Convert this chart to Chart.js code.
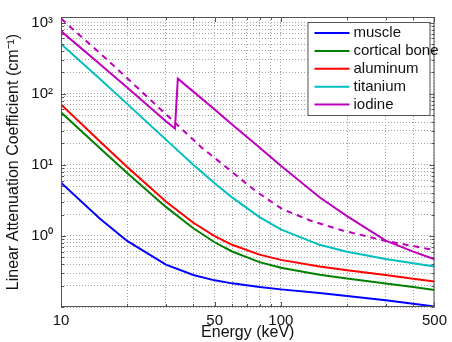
<!DOCTYPE html>
<html>
<head>
<meta charset="utf-8">
<script src="https://cdn.jsdelivr.net/npm/chart.js@4"></script>
<style>
  html, body { margin: 0; padding: 0; background: #fff; }
</style>
</head>
<body>
<canvas id="myChart" width="452" height="342"></canvas>
<script>
// energies (keV) of the tabulated points
const energy = [10, 15, 20, 30, 40, 50, 60, 80, 100, 150, 200, 300, 400, 500];
const muscle = [5.6, 1.76, 0.85, 0.395, 0.282, 0.237, 0.215, 0.191, 0.177, 0.157, 0.143, 0.124, 0.111, 0.102];
const corticalBone = [54.7, 17.3, 7.68, 2.56, 1.28, 0.814, 0.604, 0.428, 0.356, 0.284, 0.251, 0.214, 0.191, 0.174];
const aluminum = [70.8, 21.5, 9.29, 3.04, 1.53, 0.994, 0.75, 0.545, 0.46, 0.372, 0.33, 0.281, 0.25, 0.228];
const titanium = [502, 163, 72, 22.6, 10.05, 5.51, 3.48, 1.84, 1.235, 0.749, 0.597, 0.474, 0.412, 0.371];

// iodine has its K-edge between 33 and 34 keV
const iodineEnergy = [10, 15, 20, 30, 33, 34, 40, 50, 60, 80, 100, 150, 200, 300, 400, 500];
const iodine = [760, 262, 122, 41, 32.5, 163, 107, 60, 37, 17.5, 9.7, 3.5, 1.9, 0.86, 0.6, 0.47];

// dashed magenta curve
const dashedEnergy = [10, 16, 20, 32, 43.6, 57.5, 77, 101.6, 136, 189, 300, 411, 500];
const dashed = [1140, 313, 165, 42.7, 17.5, 8.84, 4.24, 2.38, 1.65, 1.2, 0.85, 0.71, 0.63];

// grid and tick labels
const xGrid = [10, 20, 30, 40, 50, 60, 70, 80, 90, 100, 200, 300, 400, 500];
const xLabels = [10, 50, 100, 500];
const yGrid = [0.1, 0.2, 0.3, 0.4, 0.5, 0.6, 0.7, 0.8, 0.9,
  1, 2, 3, 4, 5, 6, 7, 8, 9,
  10, 20, 30, 40, 50, 60, 70, 80, 90,
  100, 200, 300, 400, 500, 600, 700, 800, 900, 1000];
const yLabels = { 1: "10\u2070", 10: "10\u00b9", 100: "10\u00b2", 1000: "10\u00b3" };

const toPoints = (xs, ys) => xs.map((x, i) => ({ x, y: ys[i] }));

const font = "'Liberation Sans', Arial, sans-serif";

const serie = (label, xs, ys, color, dash) => ({
  label,
  data: toPoints(xs, ys),
  borderColor: color,
  backgroundColor: color,
  borderWidth: 2,
  borderDash: dash || [],
  pointRadius: 0,
  tension: 0,
  fill: false,
});

const datasets = [
  serie("muscle", energy, muscle, "#0000ff"),
  serie("cortical bone", energy, corticalBone, "#008000"),
  serie("aluminum", energy, aluminum, "#ff0000"),
  serie("titanium", energy, titanium, "#00bfbf"),
  serie("iodine", iodineEnergy, iodine, "#bf00bf"),
  serie("", dashedEnergy, dashed, "#bf00bf", [6, 5]),
];

// box, inner ticks and legend like the matlab figure
const marco = {
  id: "marco",
  afterDraw(chart) {
    const { ctx, chartArea: a, scales } = chart;
    ctx.save();
    ctx.strokeStyle = "#555";
    ctx.lineWidth = 1;
    ctx.beginPath();
    scales.x.ticks.forEach((t) => {
      const px = Math.round(scales.x.getPixelForValue(t.value)) + 0.5;
      const len = xLabels.includes(t.value) ? 5 : 3;
      ctx.moveTo(px, a.bottom);
      ctx.lineTo(px, a.bottom - len);
      ctx.moveTo(px, a.top);
      ctx.lineTo(px, a.top + len);
    });
    scales.y.ticks.forEach((t) => {
      const py = Math.round(scales.y.getPixelForValue(t.value)) + 0.5;
      const len = yLabels[t.value] ? 5 : 3;
      ctx.moveTo(a.left, py);
      ctx.lineTo(a.left + len, py);
      ctx.moveTo(a.right, py);
      ctx.lineTo(a.right - len, py);
    });
    ctx.stroke();
    ctx.strokeRect(a.left + 0.5, a.top + 0.5, a.right - a.left - 1, a.bottom - a.top - 1);

    // legend
    const items = chart.data.datasets.filter((d) => d.label);
    const bx = a.right - 127, by = a.top + 5, bw = 122, bh = 93;
    ctx.fillStyle = "#fff";
    ctx.fillRect(bx, by, bw, bh);
    ctx.strokeRect(bx + 0.5, by + 0.5, bw, bh);
    ctx.font = "15px " + font;
    ctx.textBaseline = "middle";
    items.forEach((d, i) => {
      const y = by + 11 + i * 17.9;
      ctx.strokeStyle = d.borderColor;
      ctx.lineWidth = 2;
      ctx.beginPath();
      ctx.moveTo(bx + 7, y);
      ctx.lineTo(bx + 42, y);
      ctx.stroke();
      ctx.fillStyle = "#111";
      ctx.fillText(d.label, bx + 46, y);
    });
    ctx.restore();
  },
};

const config = {
  type: "line",
  data: { datasets },
  options: {
    responsive: false,
    animation: false,
    devicePixelRatio: 1,
    layout: { padding: { top: 9, right: 13, left: 0, bottom: 0 } },
    plugins: { legend: { display: false }, tooltip: { enabled: false } },
    scales: {
      x: {
        type: "logarithmic",
        min: 10,
        max: 500,
        afterBuildTicks: (scale) => {
          scale.ticks = xGrid.map((v) => ({ value: v }));
        },
        afterFit: (scale) => {
          scale.height = 35;
        },
        ticks: {
          autoSkip: false,
          maxRotation: 0,
          padding: 5,
          color: "#111",
          font: { family: font, size: 15 },
          callback: (v) => (xLabels.includes(v) ? String(v) : ""),
        },
        grid: { color: "#a4a4a4", lineWidth: 1, drawTicks: false },
        border: { display: false, dash: [1, 2] },
        title: {
          display: true,
          text: "Energy (keV)",
          color: "#111",
          font: { family: font, size: 16 },
          padding: { top: 0, bottom: 0 },
        },
      },
      y: {
        type: "logarithmic",
        min: 0.1,
        max: 1200,
        afterBuildTicks: (scale) => {
          scale.ticks = yGrid.map((v) => ({ value: v }));
        },
        afterFit: (scale) => {
          scale.width = 61;
        },
        ticks: {
          autoSkip: false,
          padding: 8,
          color: "#111",
          font: { family: font, size: 15 },
          callback: (v) => yLabels[v] || "",
        },
        grid: { color: "#a4a4a4", lineWidth: 1, drawTicks: false },
        border: { display: false, dash: [1, 2] },
        title: {
          display: true,
          text: "Linear Attenuation Coefficient (cm\u207b\u00b9)",
          color: "#111",
          font: { family: font, size: 16 },
          padding: { top: 4, bottom: 0 },
        },
      },
    },
  },
  plugins: [marco],
};

const myChart = document.getElementById("myChart");
let lineChart = new Chart(myChart, config);
</script>
</body>
</html>
